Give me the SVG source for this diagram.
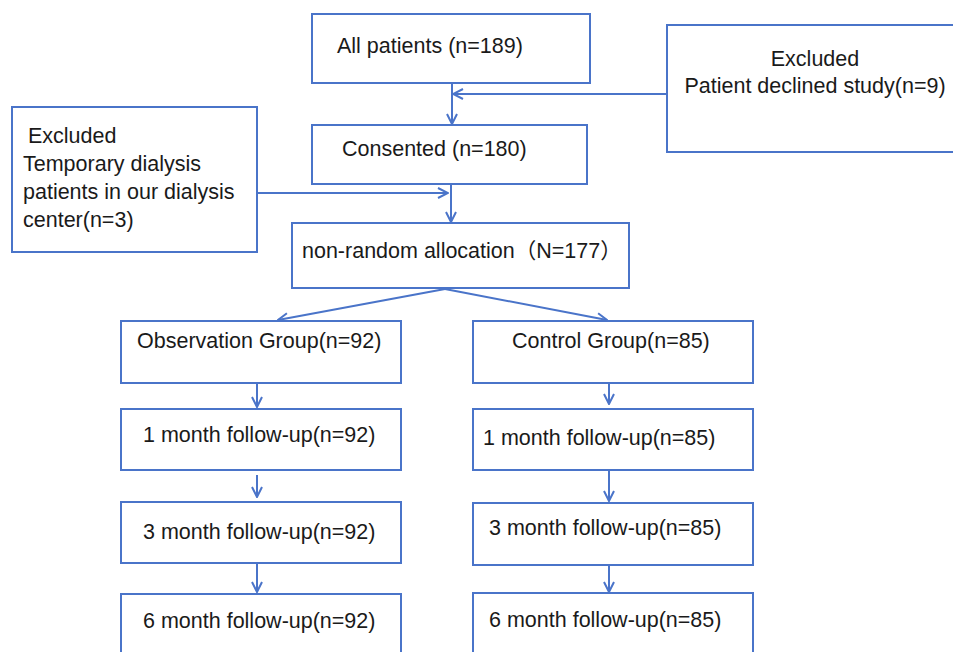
<svg xmlns="http://www.w3.org/2000/svg" width="953" height="652" viewBox="0 0 953 652">
<style>
.box{fill:#fff;stroke:#4a74c9;stroke-width:2}
.ln{fill:none;stroke:#4a74c9;stroke-width:2;marker-end:url(#ah)}
text{font-family:"Liberation Sans","Noto Sans CJK SC",sans-serif;font-size:21.5px;fill:#1a1a1a}
</style>
<defs>
<marker id="ah" viewBox="0 0 12 12" refX="11" refY="6" markerWidth="12" markerHeight="12" markerUnits="userSpaceOnUse" orient="auto">
<path d="M1,1 L11,6 L1,11" fill="none" stroke="#4a74c9" stroke-width="2"/>
</marker>
</defs>
<rect width="953" height="652" fill="#fff"/>
<g id="connectors">
<line class="ln" x1="452" y1="83" x2="452" y2="124"/>
<line class="ln" x1="667" y1="94" x2="453" y2="94"/>
<line class="ln" x1="451" y1="184" x2="451" y2="222"/>
<line class="ln" x1="257" y1="193" x2="448" y2="193"/>
<line class="ln" x1="445" y1="289" x2="278" y2="320"/>
<line class="ln" x1="445" y1="289" x2="607" y2="320"/>
<line class="ln" x1="257" y1="383" x2="257" y2="407"/>
<line class="ln" x1="257" y1="475" x2="257" y2="497"/>
<line class="ln" x1="257" y1="563" x2="257" y2="592"/>
<line class="ln" x1="609" y1="383" x2="609" y2="404"/>
<line class="ln" x1="609" y1="470" x2="609" y2="501"/>
<line class="ln" x1="609" y1="565" x2="609" y2="592"/>
</g>
<g id="all">
<rect class="box" x="312" y="14" width="278" height="69"/>
<text x="337" y="53">All patients (n=189)</text>
</g>
<g id="excl-right">
<rect class="box" x="667" y="25" width="300" height="127"/>
<text x="815" y="66" text-anchor="middle">Excluded</text>
<text x="815" y="93" text-anchor="middle">Patient declined study(n=9)</text>
</g>
<g id="consented">
<rect class="box" x="312" y="125" width="275" height="59"/>
<text x="342" y="156">Consented (n=180)</text>
</g>
<g id="excl-left">
<rect class="box" x="12" y="107" width="245" height="145"/>
<text x="28" y="143">Excluded</text>
<text x="23" y="171">Temporary dialysis</text>
<text x="23" y="199">patients in our dialysis</text>
<text x="23" y="227">center(n=3)</text>
</g>
<g id="allocation">
<rect class="box" x="292" y="223" width="337" height="65"/>
<text x="302" y="258">non-random allocation（N=177）</text>
</g>
<g id="obs">
<rect class="box" x="121" y="321" width="280" height="62"/>
<text x="137" y="348">Observation Group(n=92)</text>
</g>
<g id="obs1">
<rect class="box" x="121" y="409" width="280" height="61"/>
<text x="143" y="442">1 month follow-up(n=92)</text>
</g>
<g id="obs3">
<rect class="box" x="121" y="502" width="280" height="61"/>
<text x="143" y="539">3 month follow-up(n=92)</text>
</g>
<g id="obs6">
<rect class="box" x="121" y="594" width="280" height="70"/>
<text x="143" y="628">6 month follow-up(n=92)</text>
</g>
<g id="ctl">
<rect class="box" x="473" y="321" width="280" height="62"/>
<text x="512" y="348">Control Group(n=85)</text>
</g>
<g id="ctl1">
<rect class="box" x="473" y="409" width="280" height="61"/>
<text x="483" y="445">1 month follow-up(n=85)</text>
</g>
<g id="ctl3">
<rect class="box" x="473" y="503" width="280" height="62"/>
<text x="489" y="535">3 month follow-up(n=85)</text>
</g>
<g id="ctl6">
<rect class="box" x="473" y="593" width="280" height="70"/>
<text x="489" y="627">6 month follow-up(n=85)</text>
</g>
</svg>
